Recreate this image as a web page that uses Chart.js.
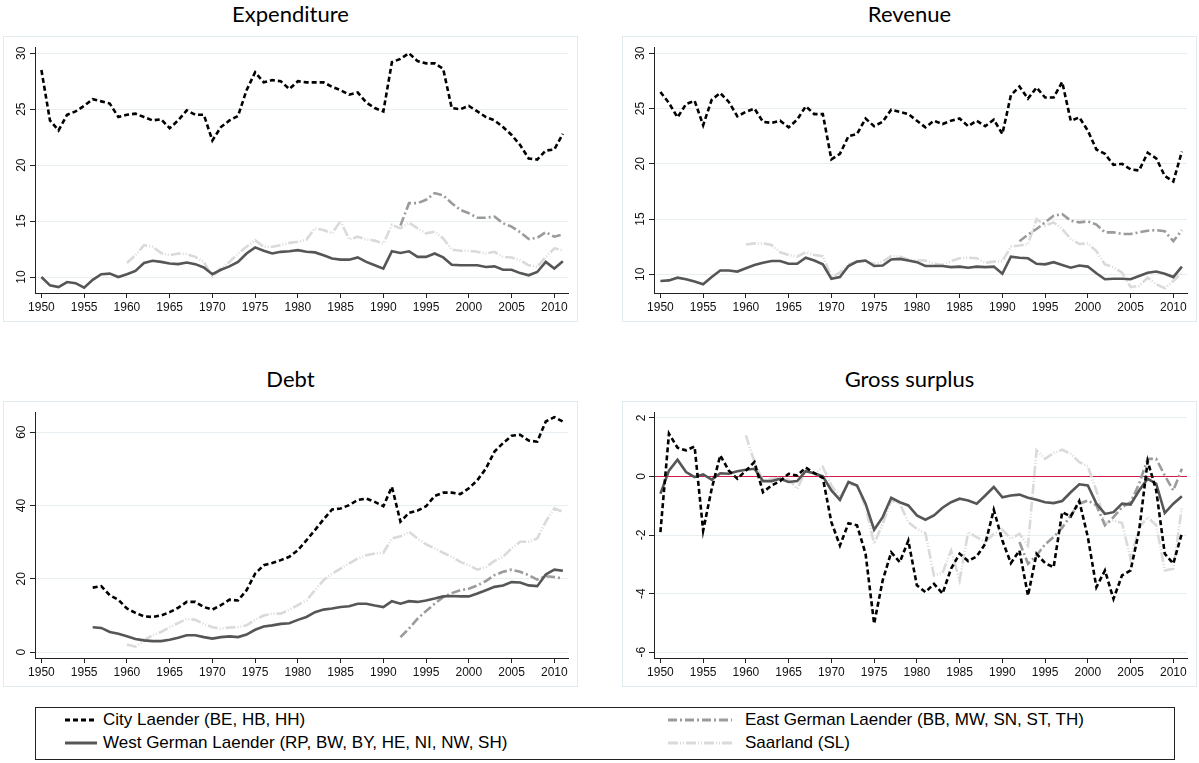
<!DOCTYPE html>
<html>
<head>
<meta charset="utf-8">
<script src="https://cdn.jsdelivr.net/npm/chart.js@4"></script>
<style>
  body { margin: 0; background: #fff; }
  #wrap { position: relative; width: 1199px; height: 763px; overflow: hidden; }
  .title { position: absolute; width: 575px; height: 26px; line-height: 26px; text-align: center;
           font-family: Lato, "Open Sans", sans-serif; font-size: 22px; color: #000; }
  .panel { position: absolute; width: 575px; height: 286px; }
  .frame { position: absolute; width: 573px; height: 284px; border: 1px solid #e1eaee; pointer-events: none; }
  #legend { position: absolute; left: 35px; top: 707px; width: 1138px; height: 51px; border: 1px solid #222;
            font-family: "Liberation Sans", Arial, sans-serif; font-size: 17px; color: #000; }
  .item { position: absolute; height: 22px; line-height: 22px; white-space: nowrap; }
  .item svg { position: absolute; top: 5px; }
  .item span { position: absolute; top: 0; }
</style>
</head>
<body>
<div id="wrap">
  <div class="title" style="left:3px; top:1px;">Expenditure</div>
  <div class="title" style="left:622px; top:1px;">Revenue</div>
  <div class="title" style="left:3px; top:366px;">Debt</div>
  <div class="title" style="left:622px; top:366px;">Gross surplus</div>

  <canvas class="panel" id="exp" width="575" height="286" style="left:3px; top:36px;"></canvas>
  <canvas class="panel" id="rev" width="575" height="286" style="left:622px; top:36px;"></canvas>
  <canvas class="panel" id="debt" width="575" height="286" style="left:3px; top:401px;"></canvas>
  <canvas class="panel" id="sur" width="575" height="286" style="left:622px; top:401px;"></canvas>
  <div class="frame" style="left:3px; top:36px;"></div>
  <div class="frame" style="left:622px; top:36px;"></div>
  <div class="frame" style="left:3px; top:401px;"></div>
  <div class="frame" style="left:622px; top:401px;"></div>

  <div id="legend"></div>
</div>

<script>
// years on the x axis
const years = [1950, 1951, 1952, 1953, 1954, 1955, 1956, 1957, 1958, 1959,
               1960, 1961, 1962, 1963, 1964, 1965, 1966, 1967, 1968, 1969,
               1970, 1971, 1972, 1973, 1974, 1975, 1976, 1977, 1978, 1979,
               1980, 1981, 1982, 1983, 1984, 1985, 1986, 1987, 1988, 1989,
               1990, 1991, 1992, 1993, 1994, 1995, 1996, 1997, 1998, 1999,
               2000, 2001, 2002, 2003, 2004, 2005, 2006, 2007, 2008, 2009,
               2010, 2011];
const xTicks = [1950, 1955, 1960, 1965, 1970, 1975, 1980, 1985, 1990, 1995, 2000, 2005, 2010];

// first year of each shorter series
const SL_START = 1960;
const EAST_START = 1992;
const DEBT_START = 1956;

const groupLabels = ['City Laender (BE, HB, HH)', 'West German Laender (RP, BW, BY, HE, NI, NW, SH)',
                     'East German Laender (BB, MW, SN, ST, TH)', 'Saarland (SL)'];

// Expenditure
const expCity = [28.5, 24.0, 23.1, 24.5, 24.8, 25.3, 25.9, 25.7, 25.5, 24.3,
                 24.5, 24.6, 24.3, 24.0, 24.1, 23.3, 24.0, 24.9, 24.5, 24.5,
                 22.2, 23.4, 24.0, 24.4, 26.7, 28.3, 27.4, 27.6, 27.5, 26.8,
                 27.5, 27.4, 27.4, 27.4, 27.0, 26.7, 26.3, 26.5, 25.6, 25.1,
                 24.8, 29.2, 29.5, 30.0, 29.3, 29.1, 29.1, 28.6, 25.1, 25.0,
                 25.3, 24.8, 24.3, 24.0, 23.4, 22.7, 21.8, 20.6, 20.5, 21.3,
                 21.4, 22.8];
const expWest = [10.0, 9.25, 9.1, 9.55, 9.45, 9.05, 9.75, 10.25, 10.3, 10.0,
                 10.25, 10.55, 11.25, 11.45, 11.35, 11.2, 11.15, 11.3, 11.15, 10.85,
                 10.25, 10.65, 10.95, 11.35, 12.1, 12.65, 12.35, 12.1, 12.25, 12.3,
                 12.4, 12.25, 12.2, 11.95, 11.65, 11.55, 11.55, 11.75, 11.35, 11.05,
                 10.75, 12.3, 12.15, 12.3, 11.8, 11.8, 12.1, 11.75, 11.1, 11.05,
                 11.05, 11.05, 10.9, 10.95, 10.65, 10.65, 10.35, 10.15, 10.45, 11.35,
                 10.75, 11.4];
const expEast = [14.6, 16.6, 16.6, 16.9, 17.5, 17.3, 16.6, 16.0, 15.7, 15.3,
                 15.3, 15.4, 14.8, 14.5, 14.0, 13.4, 13.5, 14.0, 13.6, 13.8];
const expSL = [11.25, 11.95, 12.85, 12.7, 12.15, 11.95, 12.1, 12.05, 11.8, 11.35,
               10.05, 10.75, 11.35, 12.1, 12.7, 13.3, 12.7, 12.7, 12.85, 13.05,
               13.15, 13.35, 14.35, 14.2, 13.9, 15.0, 13.35, 13.6, 13.35, 13.25,
               13.0, 14.65, 14.35, 14.85, 14.35, 13.9, 14.05, 13.45, 12.45, 12.35,
               12.35, 12.25, 12.1, 12.25, 11.8, 11.75, 11.5, 11.05, 10.9, 11.8,
               12.55, 12.4];

// Revenue
const revCity = [26.5, 25.5, 24.2, 25.4, 25.7, 23.5, 25.8, 26.4, 25.6, 24.3,
                 24.7, 25.0, 23.8, 23.7, 23.9, 23.3, 24.0, 25.2, 24.5, 24.5,
                 20.4, 20.9, 22.5, 22.7, 24.1, 23.4, 23.8, 24.9, 24.7, 24.5,
                 23.9, 23.3, 23.9, 23.6, 23.9, 24.1, 23.4, 23.9, 23.4, 24.0,
                 22.7, 26.2, 27.0, 25.9, 26.9, 26.0, 26.0, 27.4, 23.9, 24.2,
                 23.0, 21.3, 20.9, 19.9, 20.0, 19.5, 19.4, 21.0, 20.5, 18.9,
                 18.4, 21.1];
const revWest = [9.4, 9.45, 9.7, 9.55, 9.35, 9.1, 9.75, 10.35, 10.35, 10.25,
                 10.55, 10.85, 11.05, 11.2, 11.2, 10.95, 10.95, 11.5, 11.25, 10.9,
                 9.6, 9.75, 10.75, 11.15, 11.25, 10.75, 10.8, 11.35, 11.4, 11.25,
                 11.1, 10.75, 10.75, 10.75, 10.65, 10.7, 10.6, 10.7, 10.65, 10.7,
                 10.05, 11.6, 11.5, 11.45, 10.95, 10.9, 11.1, 10.85, 10.6, 10.8,
                 10.7, 10.1, 9.55, 9.6, 9.6, 9.55, 9.85, 10.15, 10.25, 10.05,
                 9.75, 10.7];
const revEast = [13.0, 13.6, 14.1, 14.7, 15.3, 15.45, 14.85, 14.7, 14.8, 14.5,
                 13.8, 13.8, 13.65, 13.65, 13.8, 13.95, 14.0, 13.9, 13.0, 14.0];
const revSL = [12.7, 12.8, 12.8, 12.65, 12.0, 11.75, 11.6, 12.0, 11.75, 11.65,
               9.75, 10.15, 10.9, 11.15, 11.15, 10.95, 11.15, 11.65, 11.6, 11.35,
               11.25, 11.25, 10.95, 10.85, 11.2, 11.45, 11.5, 11.45, 11.05, 11.15,
               11.2, 12.5, 12.6, 12.75, 15.0, 14.4, 14.7, 14.1, 13.2, 12.75,
               12.8, 12.1, 10.9, 10.65, 10.15, 8.85, 8.95, 9.7, 9.1, 8.75,
               9.4, 10.15];

// Debt (City and West from 1956)
const debtCity = [17.6, 18.0, 15.5, 14.3,
                  11.9, 10.7, 9.75, 9.6, 10.0, 10.9, 12.1, 13.7, 13.7, 12.3,
                  11.6, 12.8, 14.3, 14.1, 16.9, 21.4, 23.7, 24.3, 25.1, 26.0,
                  27.8, 30.5, 33.3, 36.2, 38.9, 39.2, 40.1, 41.5, 41.9, 41.0,
                  39.8, 45.1, 35.6, 38.0, 38.6, 39.8, 42.6, 43.5, 43.5, 43.1,
                  44.7, 46.9, 50.1, 54.7, 57.0, 59.0, 59.3, 57.7, 57.4, 62.9,
                  64.1, 62.9];
const debtWest = [6.8, 6.6, 5.5, 5.0,
                  4.3, 3.6, 3.2, 3.0, 3.0, 3.4, 3.9, 4.6, 4.6, 4.1,
                  3.7, 4.1, 4.3, 4.1, 4.8, 6.1, 7.0, 7.3, 7.7, 7.9,
                  8.8, 9.6, 10.9, 11.6, 11.9, 12.3, 12.5, 13.2, 13.2, 12.7,
                  12.3, 13.9, 13.2, 13.9, 13.7, 14.1, 14.6, 15.2, 15.3, 15.2,
                  15.2, 16.0, 16.9, 17.8, 18.2, 19.1, 19.0, 18.2, 18.0, 21.2,
                  22.5, 22.2];
const debtEast = [4.1, 6.4, 9.1, 11.2, 13.2, 15.0, 16.1, 16.9, 17.3, 18.2,
                  19.4, 21.0, 21.9, 22.5, 21.9, 21.0, 19.8, 20.7, 20.5, 20.1];
const debtSL = [2.1, 1.5, 3.2, 4.6, 5.5, 6.8, 7.9, 9.1, 8.8, 7.7,
                6.8, 6.4, 6.7, 6.8, 7.3, 8.8, 10.0, 10.5, 10.5, 11.6,
                12.8, 14.1, 16.9, 19.6, 21.4, 22.8, 24.2, 25.5, 26.4, 26.9,
                27.1, 31.0, 31.6, 32.8, 31.0, 29.4, 28.3, 27.1, 26.0, 24.6,
                23.7, 22.5, 23.2, 24.9, 26.0, 28.3, 30.1, 30.1, 31.0, 35.6,
                39.2, 38.3];

// Gross surplus
const surCity = [-1.9, 1.46, 0.98, 0.89, 1.02, -1.85, -0.42, 0.72, 0.2, -0.08,
                 0.2, 0.49, -0.54, -0.31, -0.16, 0.09, 0.03, 0.3, 0.11, -0.05,
                 -1.56, -2.36, -1.6, -1.67, -2.64, -5.03, -3.55, -2.59, -2.93, -2.19,
                 -3.72, -3.95, -3.67, -4.0, -3.15, -2.64, -2.89, -2.73, -2.3, -1.14,
                 -2.19, -2.96, -2.53, -4.07, -2.64, -2.96, -3.1, -1.22, -1.37, -0.84,
                 -2.07, -3.78, -3.21, -4.18, -3.38, -3.21, -1.85, 0.52, -0.48, -2.64,
                 -2.98, -1.94];
const surWest = [-0.59, 0.2, 0.57, 0.15, -0.02, 0.07, -0.11, 0.11, 0.09, 0.18,
                 0.23, 0.26, -0.16, -0.16, -0.08, -0.19, -0.16, 0.18, 0.11, 0.0,
                 -0.48, -0.8, -0.19, -0.31, -0.93, -1.82, -1.39, -0.73, -0.88, -0.99,
                 -1.33, -1.48, -1.33, -1.07, -0.88, -0.76, -0.82, -0.93, -0.65, -0.36,
                 -0.71, -0.65, -0.62, -0.73, -0.8, -0.88, -0.91, -0.84, -0.54, -0.27,
                 -0.31, -0.93, -1.28, -1.22, -0.93, -0.96, -0.48, -0.08, -0.25, -1.25,
                 -0.93, -0.68];
const surEast = [-2.24, -2.98, -2.7, -2.32, -2.07, -1.75, -1.33, -0.93, -0.82, -0.99,
                 -1.67, -1.39, -1.05, -0.88, -0.25, 0.6, 0.6, 0.03, -0.48, 0.26];
const surSL = [1.4, 0.49, -0.14, -0.08, -0.05, -0.11, -0.42, 0.2, 0.09, 0.32,
               -0.31, -0.71, -0.25, -0.31, -1.05, -2.3, -1.62, -0.82, -0.93, -1.56,
               -1.79, -1.94, -3.38, -3.3, -2.53, -3.55, -1.9, -2.07, -2.24, -1.96,
               -1.82, -2.13, -1.96, -2.36, 0.89, 0.6, 0.8, 0.91, 0.77, 0.49,
               0.34, -0.48, -1.62, -1.5, -1.59, -2.81, -1.75, -1.39, -1.67, -3.21,
               -3.15, -1.05];

// line styles, same order as groupLabels
const lineStyles = [
  { color: '#000000', dash: [5, 3] },
  { color: '#565656', dash: [] },
  { color: '#9b9b9b', dash: [9, 3, 2, 3] },
  { color: '#dadada', dash: [10, 2, 1, 2, 1, 2] }
];

const tickFont = { family: '"Liberation Sans", Arial, sans-serif', size: 12 };

function series(values, start) {
  const offset = years.indexOf(start);
  return values.map((v, i) => ({ x: years[offset + i], y: v }));
}

function makePanel(id, lists, starts, yMin, yMax, yTicks, zeroLine) {
  // draw order: City on top, Saarland at the bottom
  const datasets = lists.map((vals, i) => ({
    label: groupLabels[i],
    data: series(vals, starts[i]),
    borderColor: lineStyles[i].color,
    borderDash: lineStyles[i].dash,
    borderWidth: 2.6,
    pointRadius: 0,
    tension: 0,
    fill: false
  }));

  new Chart(document.getElementById(id), {
    type: 'line',
    data: { datasets: datasets },
    options: {
      responsive: false,
      animation: false,
      events: [],
      layout: { padding: { left: 0, right: 10, top: 11, bottom: 0 } },
      plugins: { legend: { display: false }, tooltip: { enabled: false } },
      scales: {
        x: {
          type: 'linear',
          min: 1949.25,
          max: 2011.6,
          afterBuildTicks: scale => { scale.ticks = xTicks.map(v => ({ value: v })); },
          afterFit: scale => { scale.height = 29; },
          grid: { drawOnChartArea: false, drawTicks: true, tickLength: 5, tickColor: '#222' },
          border: { display: true, color: '#222', width: 1 },
          ticks: {
            font: tickFont, color: '#111', padding: 2,
            autoSkip: false, maxRotation: 0,
            callback: v => String(v)
          }
        },
        y: {
          type: 'linear',
          min: yMin,
          max: yMax,
          afterBuildTicks: scale => { scale.ticks = yTicks.map(v => ({ value: v })); },
          afterFit: scale => { scale.width = 32; },
          grid: {
            color: ctx => (zeroLine && ctx.tick && ctx.tick.value === 0) ? '#d4184c' : '#e7eff2',
            lineWidth: 1,
            tickColor: '#222',
            tickLength: 5
          },
          border: { display: true, color: '#222', width: 1 },
          ticks: {
            font: tickFont, color: '#111', padding: 2,
            minRotation: 90, maxRotation: 90, crossAlign: 'center',
            callback: v => String(v)
          }
        }
      }
    }
  });
}

const fullStarts = [1950, 1950, EAST_START, SL_START];
const debtStarts = [DEBT_START, DEBT_START, EAST_START, SL_START];

makePanel('exp', [expCity, expWest, expEast, expSL], fullStarts, 8.57, 30.56, [10, 15, 20, 25, 30], false);
makePanel('rev', [revCity, revWest, revEast, revSL], fullStarts, 8.31, 30.57, [10, 15, 20, 25, 30], false);
makePanel('debt', [debtCity, debtWest, debtEast, debtSL], debtStarts, -1.6, 65.5, [0, 20, 40, 60], false);
makePanel('sur', [surCity, surWest, surEast, surSL], fullStarts, -6.2, 2.2, [-6, -4, -2, 0, 2], true);

// legend: two columns, row-wise City, East / West, Saarland
const legend = document.getElementById('legend');
const legendSlots = [
  { idx: 0, left: 29, top: 0, len: 32, text: 67 },
  { idx: 2, left: 632, top: 0, len: 64, text: 709 },
  { idx: 1, left: 29, top: 23, len: 32, text: 67 },
  { idx: 3, left: 632, top: 23, len: 64, text: 709 }
];
legendSlots.forEach(s => {
  const st = lineStyles[s.idx];
  const item = document.createElement('div');
  item.className = 'item';
  item.style.left = s.left + 'px';
  item.style.top = (s.top + 1) + 'px';
  item.innerHTML =
    '<svg width="' + s.len + '" height="12" style="left:0">' +
    '<line x1="0" y1="6" x2="' + s.len + '" y2="6" stroke="' + st.color + '" stroke-width="3"' +
    (st.dash.length ? ' stroke-dasharray="' + st.dash.join(',') + '"' : '') + '/></svg>' +
    '<span style="left:' + (s.text - s.left) + 'px">' + groupLabels[s.idx] + '</span>';
  legend.appendChild(item);
});
</script>
</body>
</html>
